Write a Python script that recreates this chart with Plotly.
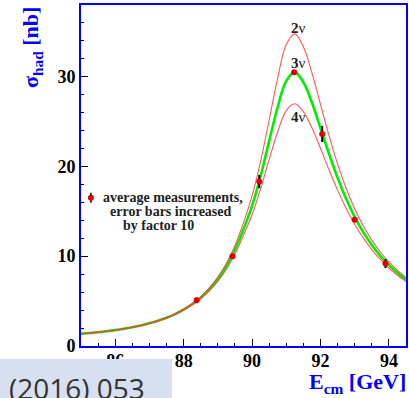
import plotly.graph_objects as go

# ---- data ----
energy = [85.0, 85.25, 85.5, 85.75, 86.0, 86.25, 86.5, 86.75, 87.0, 87.25, 87.5, 87.75,
          88.0, 88.25, 88.5, 88.75, 89.0, 89.25, 89.5, 89.75, 90.0, 90.25, 90.5, 90.75,
          91.0, 91.25, 91.5, 91.75, 92.0, 92.25, 92.5, 92.75, 93.0, 93.25, 93.5, 93.75,
          94.0, 94.25, 94.5]
sigma_2nu = [1.37, 1.45, 1.54, 1.65, 1.78, 1.93, 2.11, 2.31, 2.56, 2.84, 3.18, 3.60,
             4.11, 4.73, 5.50, 6.47, 7.68, 9.22, 11.19, 13.73, 16.7, 20.55, 25.15, 29.85,
             33.55, 34.74, 33.31, 30.41, 26.91, 23.42, 20.27, 17.55, 15.27, 13.37, 11.78,
             10.46, 9.36, 8.42, 7.63]
sigma_3nu = [1.36, 1.44, 1.53, 1.64, 1.77, 1.92, 2.09, 2.29, 2.53, 2.81, 3.14, 3.55,
             4.04, 4.64, 5.38, 6.30, 7.44, 8.88, 10.71, 12.99, 15.6, 18.9, 22.8, 26.6,
             29.5, 30.45, 29.35, 27.1, 24.26, 21.39, 18.73, 16.39, 14.38, 12.68, 11.25,
             10.04, 9.02, 8.15, 7.40]
sigma_4nu = [1.35, 1.43, 1.52, 1.63, 1.75, 1.90, 2.08, 2.27, 2.51, 2.77, 3.10, 3.50,
             3.97, 4.55, 5.26, 6.14, 7.22, 8.56, 10.24, 12.32, 14.6, 17.5, 20.75, 23.85,
             26.2, 26.96, 26.09, 24.28, 22.0, 19.61, 17.35, 15.32, 13.55, 12.03, 10.73,
             9.63, 8.68, 7.87, 7.18]

meas_E = [88.38, 89.43, 90.21, 91.23, 92.05, 93.00, 93.90]
meas_sigma = [5.09, 9.98, 18.3, 30.47, 23.6, 14.06, 9.17]
meas_err = [0.3, 0.2, 0.74, 0.2, 0.9, 0.2, 0.5]

key_E = [85.29]
key_sigma = [16.5]
key_err = [0.55]

curve_labels = ["2", "3", "4"]
curve_label_E = [91.36, 91.36, 91.36]
curve_label_sigma = [35.4, 31.5, 25.5]

x_ticks = [86, 88, 90, 92, 94]
y_ticks = [0, 10, 20, 30]

SERIF = "Liberation Serif"
BLUE = "#0000FF"

fig = go.Figure()
fig.add_trace(go.Scatter(x=energy, y=sigma_3nu, mode="lines", line=dict(color="#00EE00", width=2.6, shape="spline"), hoverinfo="skip"))
for s in (sigma_2nu, sigma_4nu):
    fig.add_trace(go.Scatter(x=energy, y=s, mode="lines", line=dict(color="rgba(255,60,60,0.85)", width=1.1, shape="spline"), hoverinfo="skip"))
fig.add_trace(go.Scatter(x=meas_E, y=meas_sigma, mode="markers",
                         marker=dict(color="#E00000", size=6),
                         error_y=dict(type="data", array=meas_err, color="black", thickness=2, width=0)))
fig.add_trace(go.Scatter(x=key_E, y=key_sigma, mode="markers",
                         marker=dict(color="#E00000", size=6),
                         error_y=dict(type="data", array=key_err, color="black", thickness=1.5, width=0)))

for t, xe, ys in zip(curve_labels, curve_label_E, curve_label_sigma):
    fig.add_annotation(x=xe, y=ys, text=f"<b>{t}</b>ν", showarrow=False,
                       xanchor="center", yanchor="middle",
                       font=dict(family=SERIF, size=15, color="#222"))

legend_lines = ["average measurements,", "error bars increased", "by factor 10"]
legend_x = [85.58, 85.79, 86.17]
legend_y = [16.5, 14.94, 13.39]
for t, xe, ys in zip(legend_lines, legend_x, legend_y):
    fig.add_annotation(x=xe, y=ys, text=f"<b>{t}</b>", showarrow=False, xanchor="left",
                       yanchor="middle", font=dict(family=SERIF, size=14, color="#222"))

fig.add_annotation(xref="paper", yref="paper", x=(32-81)/325, y=(346-48)/341,
                   xanchor="center", yanchor="middle", text="<b>σ<sub>had</sub> [nb]</b>",
                   textangle=-90, showarrow=False,
                   font=dict(family=SERIF, size=22, color=BLUE))
fig.add_annotation(xref="paper", yref="paper", x=(357-81)/325, y=(346-383)/341,
                   xanchor="center", yanchor="middle", text="<b>E<sub>cm</sub> [GeV]</b>",
                   showarrow=False, font=dict(family=SERIF, size=22, color=BLUE))

# footer box
fig.add_shape(type="rect", xref="paper", yref="paper", x0=-81/325, x1=(172-81)/325,
              y0=(346-400)/341, y1=(346-359)/341, fillcolor="#D6E0F0", line=dict(width=0), layer="above")
fig.add_annotation(xref="paper", yref="paper", x=(7-81)/325, y=(346-388)/341,
                   xanchor="left", yanchor="middle",
                   text="(2016) 053", showarrow=False,
                   font=dict(family="Open Sans", size=28, color="#333"))

axis_common = dict(showgrid=False, zeroline=False, showline=True, linecolor=BLUE, linewidth=2,
                   mirror=True, ticks="inside", ticklen=7, tickwidth=1.2, tickcolor="black",
                   automargin=False,
                   tickfont=dict(family=SERIF, size=18, color="black"))
fig.update_xaxes(range=[85, 94.5], tickvals=x_ticks, ticktext=[f"<b>{v}</b>" for v in x_ticks],
                 minor=dict(dtick=0.5, tick0=85, ticks="inside", ticklen=3, tickcolor="black"),
                 ticklabelstandoff=-3, **axis_common)
fig.update_yaxes(range=[0, 37.95], tickvals=y_ticks, ticktext=[f"<b>{v}</b>" for v in y_ticks],
                 minor=dict(dtick=2, tick0=0, ticks="inside", ticklen=3, tickcolor="black"),
                 ticklabelstandoff=0, **axis_common)

fig.update_layout(width=409, height=398, margin=dict(l=81, r=3, t=5, b=52, autoexpand=False),
                  plot_bgcolor="white", paper_bgcolor="white", showlegend=False)
fig.write_html("out.html", config={"displayModeBar": False},
               post_script="document.body.style.margin='0';document.body.style.padding='0';document.body.style.overflow='hidden';")
